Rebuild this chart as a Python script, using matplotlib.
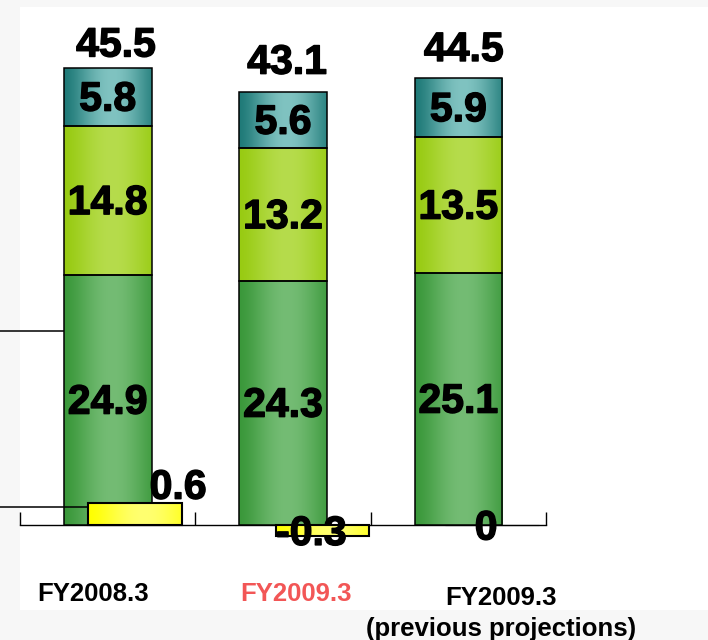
import numpy as np
import matplotlib
matplotlib.use("Agg")
import matplotlib.pyplot as plt
import matplotlib.patheffects as pe
from matplotlib.colors import to_rgb
from matplotlib.patches import Rectangle
from matplotlib.lines import Line2D

# ---- data -------------------------------------------------------------
categories = ["FY2008.3", "FY2009.3", "FY2009.3\n(previous projections)"]
category_colors = ["black", "#f25656", "black"]
base_seg = [24.9, 24.3, 25.1]
mid_seg = [14.8, 13.2, 13.5]
top_seg = [5.8, 5.6, 5.9]
totals = [45.5, 43.1, 44.5]
adjustment = [0.6, -0.3, 0]

# ---- style ------------------------------------------------------------
plt.rcParams["font.family"] = ["Liberation Sans", "DejaVu Sans"]
plt.rcParams["font.weight"] = "bold"

GREEN = ("#3a983a", "#74bc74")
LIME = ("#98cb12", "#b6dc4c")
TEAL = ("#1f7a78", "#80c3c1")
YELLOW = ("#ffff00", "#ffff70")
HEAVY = [pe.withStroke(linewidth=1.0, foreground="black")]

W, H = 708, 640
fig = plt.figure(figsize=(W / 100, H / 100), dpi=100, facecolor="#f7f7f7")
fig.patches.append(Rectangle((20 / W, 30 / H), 1 - 20 / W, (610 - 7) / H,
                             transform=fig.transFigure, facecolor="white",
                             edgecolor="none", zorder=-10))

# axes: baseline at y=525px, x from 20px to 546px
ax_bottom, ax_top = 545, 20
ax = fig.add_axes([20 / W, (H - ax_bottom) / H, 526 / W, (ax_bottom - ax_top) / H])
ax.patch.set_visible(False)
main_scale = 10.05   # px per unit
adj_scale = 36.7     # px per unit
ax.set_xlim(-0.5, 2.5)
ax.set_ylim(-(ax_bottom - 525) / main_scale, (525 - ax_top) / main_scale)

ax2 = ax.twinx()
ax2.patch.set_visible(False)
ax2.set_ylim(-(ax_bottom - 525) / adj_scale, (525 - ax_top) / adj_scale)
for a in (ax, ax2):
    for s in ("top", "right", "left"):
        a.spines[s].set_visible(False)
ax2.spines["bottom"].set_visible(False)
ax2.set_yticks([])
ax.set_yticks([])

ax.spines["bottom"].set_position(("data", 0))
ax.spines["bottom"].set_linewidth(1.0)
ax.set_xticks([-0.5, 0.5, 1.5, 2.5])
ax.set_xticklabels([])
ax.tick_params(axis="x", direction="in", length=9.5, width=1.0, color="black")


def shade(a, patch, colors, peak=0.55):
    """Fill a bar with a horizontal dark-light-dark gradient."""
    x0, y0 = patch.get_x(), patch.get_y()
    w, h = patch.get_width(), patch.get_height()
    t = np.linspace(0, 1, 256)
    k = np.clip(1 - np.abs(t - peak) / max(peak, 1 - peak), 0, 1)
    k = np.sin(k * np.pi / 2) ** 1.5
    e, c = np.array(to_rgb(colors[0])), np.array(to_rgb(colors[1]))
    rgb = e[None, :] * (1 - k[:, None]) + c[None, :] * k[:, None]
    img = a.imshow(rgb[None, :, :], extent=(x0, x0 + w, y0, y0 + h),
                   aspect="auto", origin="lower", interpolation="bilinear",
                   zorder=patch.get_zorder() - 0.1)
    img.set_clip_path(patch)


x = np.arange(len(categories))
bar_w = 0.50
bottom = np.zeros(len(x))
for seg, cols in ((base_seg, GREEN), (mid_seg, LIME), (top_seg, TEAL)):
    bars = ax.bar(x, seg, bar_w, bottom=bottom, facecolor="none",
                  edgecolor="black", linewidth=1.1, zorder=3)
    for b in bars:
        shade(ax, b, cols)
    for xi, b0, v in zip(x, bottom, seg):
        ax.annotate(f"{v}", xy=(xi, b0 + v / 2), xytext=(0, -2),
                    textcoords="offset points", ha="center", va="center",
                    fontsize=29.5, fontweight="bold", zorder=5,
                    path_effects=HEAVY)
    bottom = bottom + np.array(seg)

ax.set_xlim(-0.5, 2.5)
ax.set_ylim(-(ax_bottom - 525) / main_scale, (525 - ax_top) / main_scale)

total_offsets = [(6, 16), (3, 21), (4, 20)]
for xi, t, off in zip(x, totals, total_offsets):
    ax.annotate(f"{t}", xy=(xi, t), xytext=off, textcoords="offset points",
                ha="center", va="center", fontsize=29.5, fontweight="bold",
                path_effects=HEAVY)

# adjustment bars on their own scale, shifted right of each stack
adj_shift = [0.156, 0.225, 0.19]
adj_w = 0.535
adj_bars = ax2.bar(x + np.array(adj_shift), adjustment, adj_w, facecolor="none",
                   edgecolor="black", linewidth=1.5, zorder=4)
for b, v in zip(adj_bars, adjustment):
    shade(ax2, b, YELLOW, peak=0.6)
    if v == 0:
        b.set_linewidth(0.8)
ax2.set_ylim(-(ax_bottom - 525) / adj_scale, (525 - ax_top) / adj_scale)

adj_label_offsets = [(31, 11), (-8, 1.5), (-4, -2.5)]
for xi, s, v, off in zip(x, adj_shift, adjustment, adj_label_offsets):
    ax2.annotate(f"{v:g}", xy=(xi + s, v), xytext=off, textcoords="offset points",
                 ha="center", va="center", fontsize=29.5, fontweight="bold",
                 zorder=6, path_effects=HEAVY)

# category labels beneath the baseline
cat_offsets = [(-10.8, -50), (9.4, -50), (31, -63.5)]
for xi, lab, col, off in zip(x, categories, category_colors, cat_offsets):
    ax.annotate(lab, xy=(xi, 0), xytext=off, textcoords="offset points",
                ha="center", va="center", fontsize=18.5, fontweight="bold",
                color=col, linespacing=1.35, annotation_clip=False)

# leader lines running in from the left edge
ax.add_line(Line2D([-0.62, -0.25], [19.3, 19.3], color="black", lw=1.1,
                   clip_on=False, zorder=2))
ax2.add_line(Line2D([-0.62, adj_shift[0] - adj_w / 2], [0.49, 0.49],
                    color="black", lw=1.1, clip_on=False, zorder=2))

fig.savefig("out.png", dpi=100, facecolor=fig.get_facecolor())
